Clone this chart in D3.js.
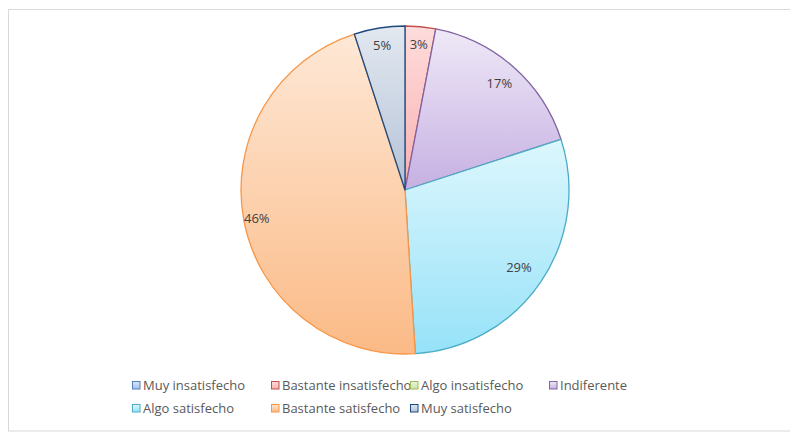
<!DOCTYPE html>
<html>
<head>
<meta charset="utf-8">
<script src="https://cdn.jsdelivr.net/npm/d3@7"></script>
<style>
  body { margin: 0; background: #fff; }
  svg { display: block; }
</style>
</head>
<body>
<div id="grafico"></div>
<script>
// Datos del gráfico
const categorias = ["Muy insatisfecho", "Bastante insatisfecho", "Algo insatisfecho", "Indiferente",
                    "Algo satisfecho", "Bastante satisfecho", "Muy satisfecho"];
const valores = [0, 3, 0, 17, 29, 46, 5];
const etiquetas = ["", "3%", "", "17%", "29%", "46%", "5%"];

// Colores (borde, degradado claro, degradado oscuro)
const bordes = ["#4f81bd", "#c0504d", "#9bbb59", "#8064a2", "#4bacc6", "#f79646", "#1f497d"];
const claros = ["#dde7f6", "#ffdcdc", "#ebf4dd", "#efe9f7", "#ddf7fd", "#fee8d6", "#e3e8f0"];
const oscuros = ["#a8c0e7", "#f8b0b0", "#cde2ae", "#c6b0e2", "#96e2f8", "#fbba86", "#b3c2d7"];

const width = 790, height = 433;
const cx = 405, cy = 190, radio = 164;

const svg = d3.select("#grafico")
    .append("svg")
    .attr("width", width)
    .attr("height", height);

// Marco del gráfico
svg.append("rect")
    .attr("x", 8.5)
    .attr("y", 9.5)
    .attr("width", 790)
    .attr("height", 421.5)
    .attr("fill", "#fff")
    .attr("stroke", "#d9d9d9")
    .attr("stroke-width", 1);

// Degradados
const defs = svg.append("defs");
categorias.forEach(function(c, i) {
    const g = defs.append("linearGradient")
        .attr("id", "grad" + i)
        .attr("x1", 0).attr("y1", 0)
        .attr("x2", 0).attr("y2", 1);
    g.append("stop").attr("offset", "0%").attr("stop-color", claros[i]);
    g.append("stop").attr("offset", "100%").attr("stop-color", oscuros[i]);
});

const pie = d3.pie().sort(null).value(d => d);
const arco = d3.arc().innerRadius(0).outerRadius(radio);
const arcos = pie(valores);

const grupoPie = svg.append("g")
    .attr("transform", `translate(${cx}, ${cy})`);

grupoPie.selectAll("path")
    .data(arcos.filter(d => d.value > 0))
    .enter()
    .append("path")
    .attr("d", arco)
    .attr("fill", d => `url(#grad${d.index})`)
    .attr("stroke", d => bordes[d.index])
    .attr("stroke-width", 1.3)
    .attr("stroke-linejoin", "round");

// Etiquetas de porcentaje (distancia relativa al radio)
const ajustes = { 1: 0.89, 3: 0.87, 4: 0.84, 5: 0.92, 6: 0.89 };
grupoPie.selectAll(".etiqueta")
    .data(arcos.filter(d => d.value > 0))
    .enter()
    .append("text")
    .attr("class", "etiqueta")
    .attr("transform", function(d) {
        const r = radio * (ajustes[d.index] || 0.8);
        const a = (d.startAngle + d.endAngle) / 2;
        return `translate(${r * Math.sin(a)}, ${-r * Math.cos(a)})`;
    })
    .attr("text-anchor", "middle")
    .attr("dy", "0.35em")
    .style("font-family", "'Open Sans', sans-serif")
    .style("font-size", "13px")
    .attr("fill", "#404040")
    .text(d => etiquetas[d.index]);

// Leyenda
const leyenda = svg.append("g");
const items = leyenda.selectAll(".item")
    .data(categorias)
    .enter()
    .append("g")
    .attr("class", "item")
    .attr("transform", function(d, i) {
        const col = i < 4 ? i : i - 4;
        const fila = i < 4 ? 0 : 1;
        return `translate(${132 + col * 139}, ${381 + fila * 23})`;
    });

items.append("rect")
    .attr("x", 0.5)
    .attr("y", 0.5)
    .attr("width", 7.5)
    .attr("height", 7.5)
    .attr("fill", (d, i) => `url(#grad${i})`)
    .attr("stroke", (d, i) => bordes[i])
    .attr("stroke-width", 1);

items.append("text")
    .attr("x", 11)
    .attr("y", 4.5)
    .attr("dy", "0.35em")
    .style("font-family", "'Open Sans', sans-serif")
    .style("font-size", "13px")
    .attr("fill", "#595959")
    .text(d => d);
</script>
</body>
</html>
